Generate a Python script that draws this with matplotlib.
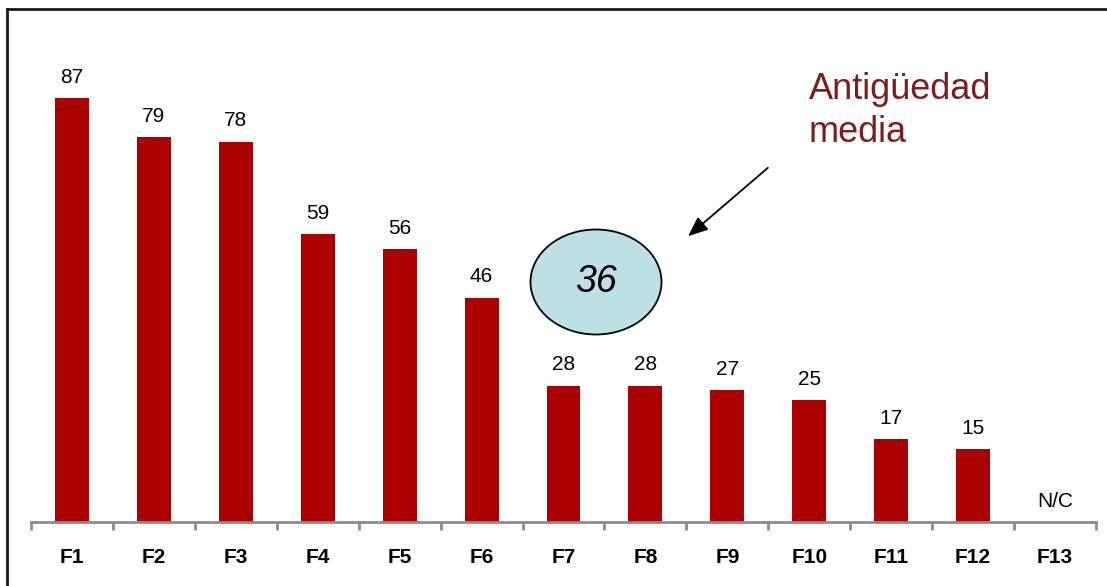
import numpy as np
import matplotlib.pyplot as plt
from matplotlib.patches import Ellipse
from matplotlib.lines import Line2D

plt.rcParams['font.family'] = ['Liberation Sans', 'DejaVu Sans']

# ── data ─────────────────────────────────────────────────────────────────────
categories = ["F1", "F2", "F3", "F4", "F5", "F6", "F7",
              "F8", "F9", "F10", "F11", "F12", "F13"]
values = [87, 79, 78, 59, 56, 46, 28, 28, 27, 25, 17, 15, np.nan]
missing_label = "N/C"
media_value = 36
media_text = "Antigüedad\nmedia"

W, H = 1107, 586
fig = plt.figure(figsize=(W / 100, H / 100), dpi=100)
ax = fig.add_axes([31 / W, 1 - 522 / H, (1096 - 31) / W, (522 - 34.6) / H])

x = np.arange(len(categories))
vals = np.array(values, dtype=float)
ax.bar(x, np.nan_to_num(vals), width=0.415, color="#AA0000", zorder=2)

for xi, v in zip(x, vals):
    lbl = missing_label if np.isnan(v) else f"{int(v)}"
    h = 0 if np.isnan(v) else v
    ax.annotate(lbl, (xi, h), xytext=(0, 15), textcoords="offset points",
                ha="center", va="center", fontsize=15, color="black")

ax.set_xlim(-0.5, len(categories) - 0.5)
ax.set_ylim(0, 100)
for s in ["top", "right", "left"]:
    ax.spines[s].set_visible(False)
ax.spines["bottom"].set_color("#8c8c8c")
ax.spines["bottom"].set_linewidth(2)
ax.set_yticks([])
ax.set_xticks(x)
ax.set_xticklabels(categories, fontsize=15, fontweight="bold")
ax.tick_params(axis="x", which="major", length=0, pad=19)
ax.set_xticks(np.arange(-0.5, len(categories), 1), minor=True)
ax.tick_params(axis="x", which="minor", length=6, width=2, color="#8c8c8c")

# ── annotation: average seniority ────────────────────────────────────────────
ell = Ellipse((596 / W, 1 - 282 / H), 131 / W, 105 / H, transform=fig.transFigure,
              facecolor="#BCE0E3", edgecolor="black", linewidth=1.3)
fig.patches.append(ell)
fig.text(596 / W, 1 - 282 / H, f"{media_value}", ha="center", va="center",
         fontsize=27, style="italic")
fig.text(809 / W, 1 - 111 / H, media_text, ha="left", va="center",
         fontsize=26, color="#7B1E1E", linespacing=1.27)
ax.annotate("", xy=(686 / W, 1 - 238 / H), xytext=(770 / W, 1 - 166 / H),
            xycoords="figure fraction", textcoords="figure fraction",
            arrowprops=dict(arrowstyle="-|>,head_length=1.2,head_width=0.5",
                            color="black", lw=1.3))

# frame (cropped slide border)
fig.lines.append(Line2D([7 / W, 7 / W], [0, 1 - 9 / H], transform=fig.transFigure,
                        color="#1a1a1a", lw=2.0))
fig.lines.append(Line2D([7 / W, 1], [1 - 9 / H, 1 - 9 / H], transform=fig.transFigure,
                        color="#1a1a1a", lw=2.0))

plt.savefig("out.png", dpi=100)
